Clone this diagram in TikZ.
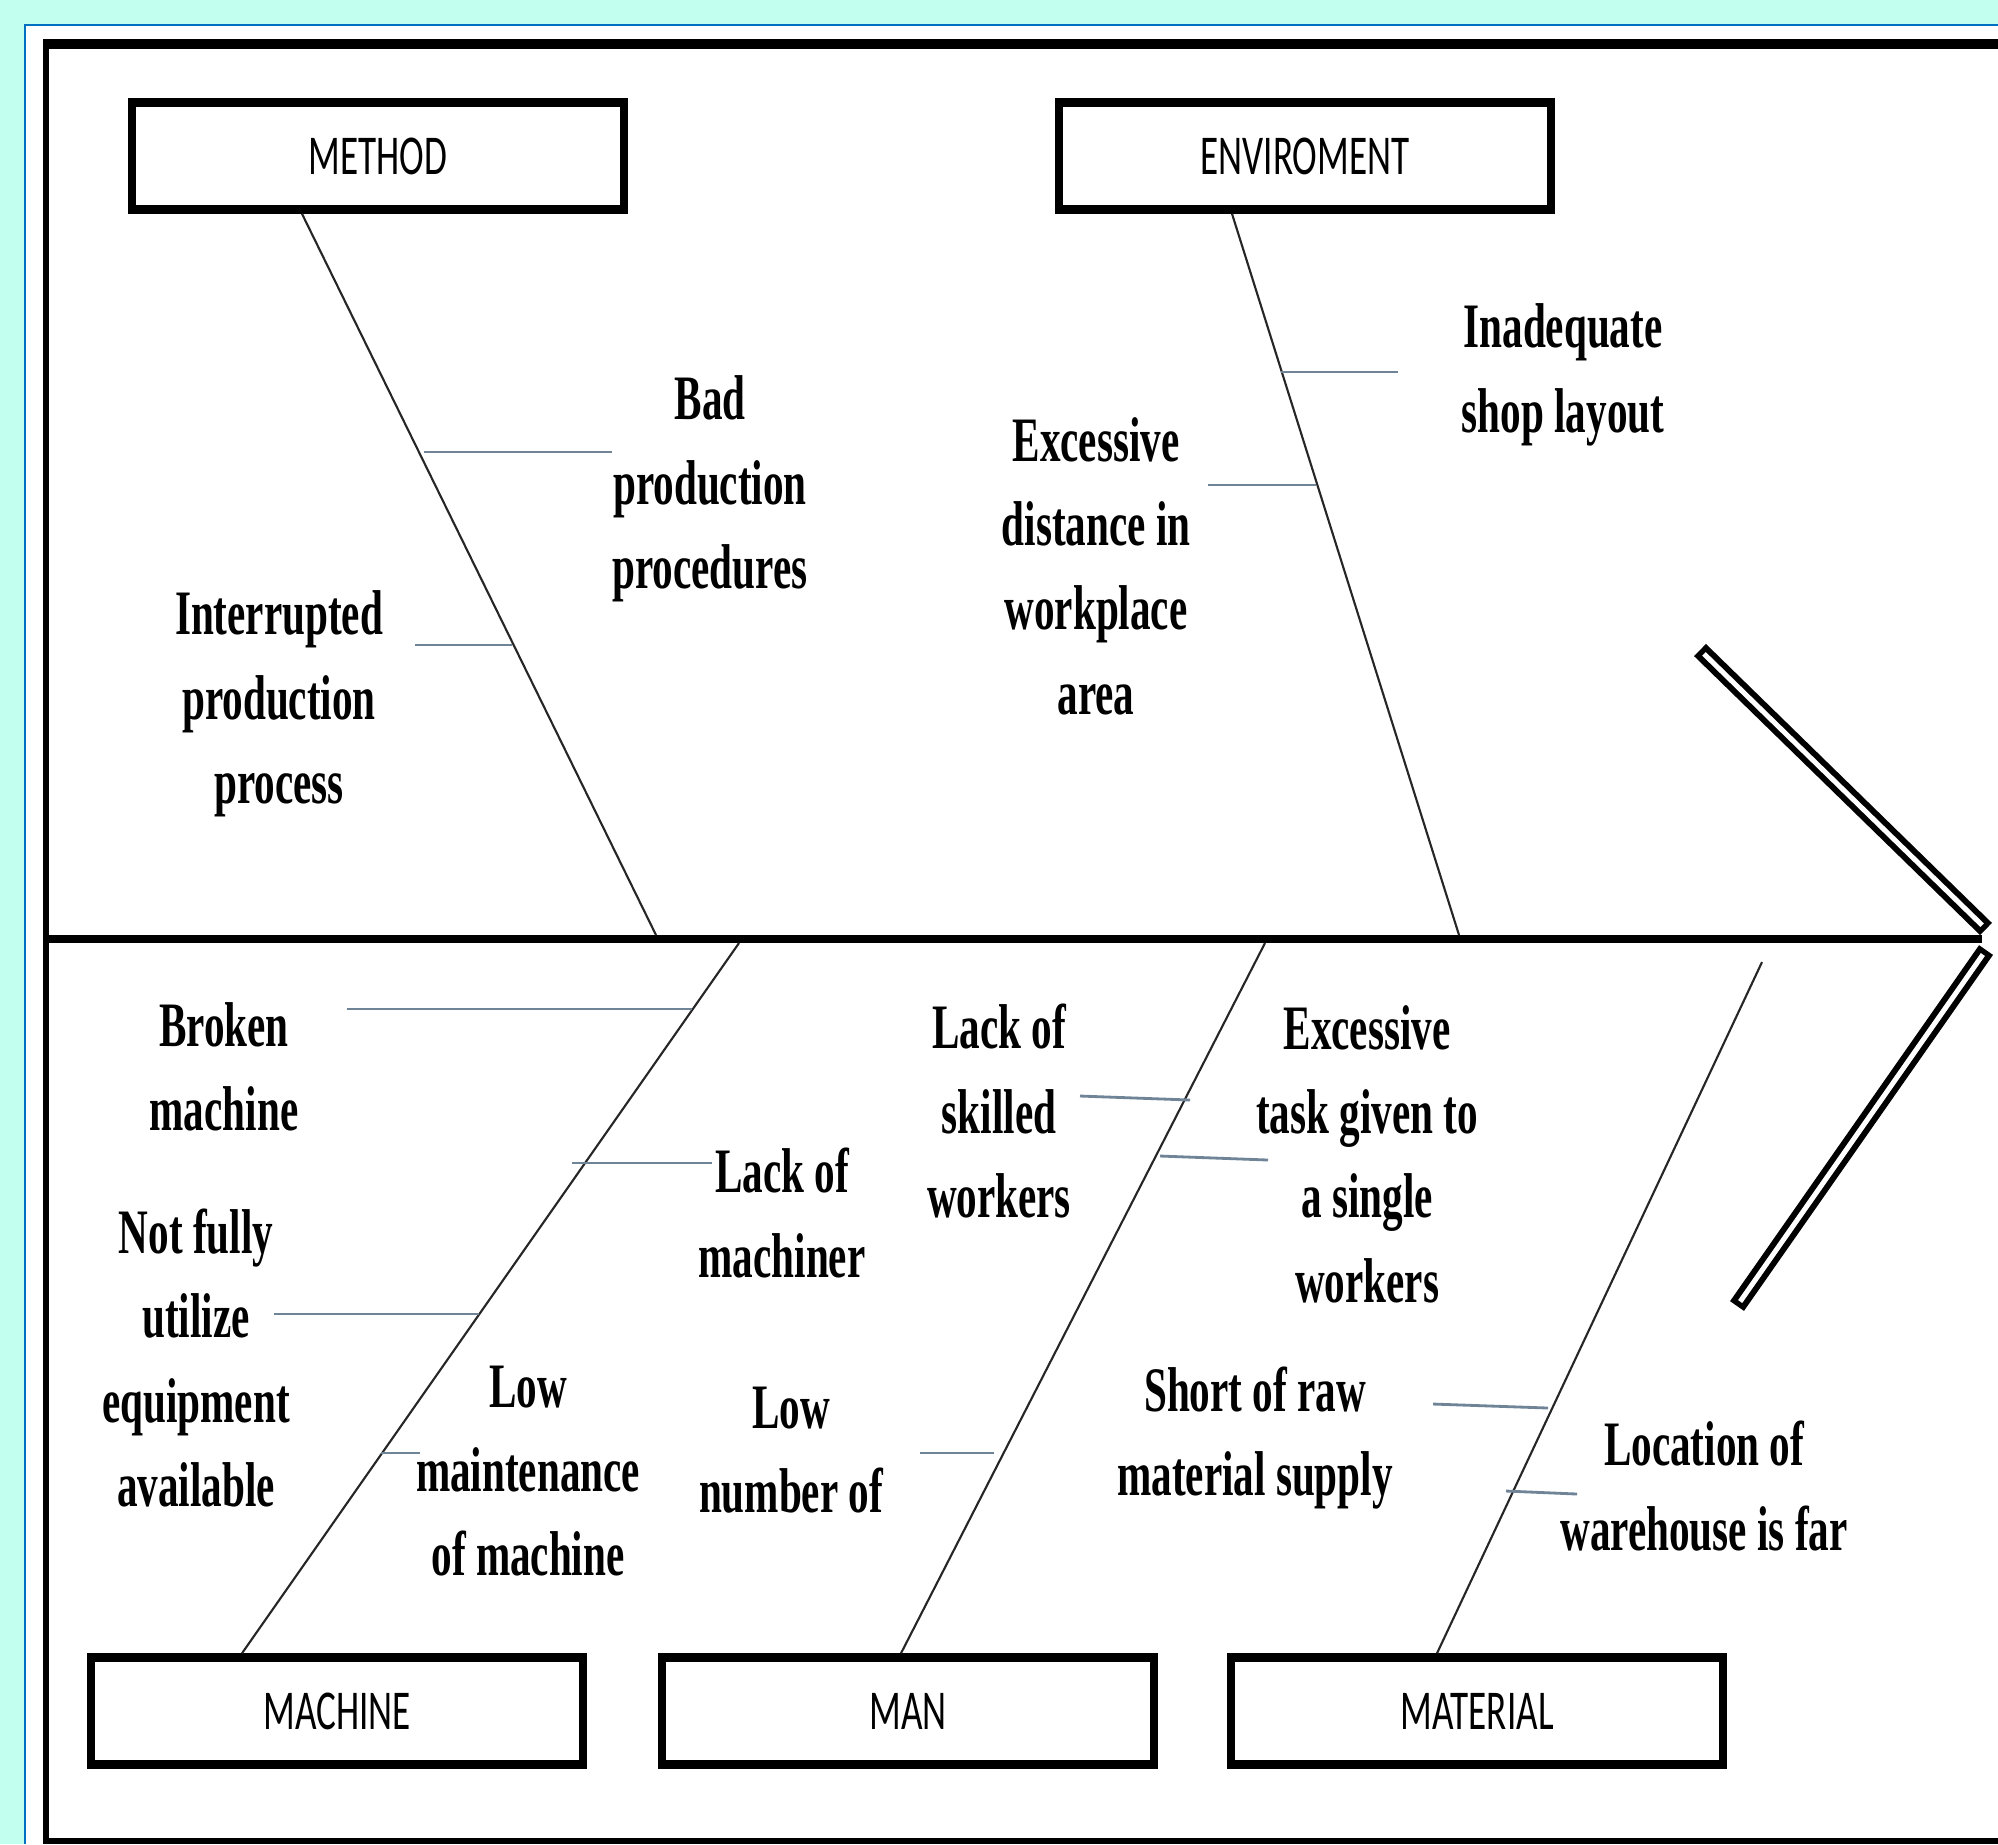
\documentclass[tikz,border=0pt]{standalone}
\usepackage{fontspec}
\newfontfamily\causefont[FakeStretch=0.65]{Liberation Serif}
\newfontfamily\catfont[FakeStretch=0.66]{Carlito}
\usetikzlibrary{calc}
\definecolor{bgcyan}{RGB}{194,255,238}
\definecolor{frameblue}{RGB}{0,112,192}
\definecolor{ribcol}{RGB}{111,132,151}
\begin{document}
\begin{tikzpicture}[x=0.01cm,y=-0.01cm,
  catbox/.style={draw=black, line width=0.085cm, minimum width=4.92cm, minimum height=1.07cm, inner sep=0pt, fill=white, font=\catfont\fontsize{16}{19}\selectfont},
  cause/.style={align=center, inner sep=0pt, font=\causefont\bfseries\fontsize{18}{24}\selectfont},
  bone/.style={line width=0.6pt, black!85},
  rib/.style={line width=0.8pt, ribcol},
  armout/.style={line width=0.17cm, black},
  armin/.style={line width=0.05cm, white, shorten <=0.055cm, shorten >=0.055cm}
]
\useasboundingbox (0,0) rectangle (1998,1844);
\fill[bgcyan] (0,0) rectangle (1998,1844);
\fill[white] (25,25) rectangle (1998,1844);
\draw[frameblue, line width=0.025cm] (1998,25) -- (25,25) -- (25,1844);
\draw[line width=0.1cm] (43,44) -- (1998,44);
\draw[line width=0.06cm] (46,40) -- (46,1844);
\draw[line width=0.06cm] (43,1841) -- (1998,1841);

% category boxes
\node[catbox] (method) at (378,156) {METHOD};
\node[catbox] (env) at (1305,156) {ENVIROMENT};
\node[catbox] (machine) at (337,1711) {MACHINE};
\node[catbox] (man) at (908,1711) {MAN};
\node[catbox] (material) at (1477,1711) {MATERIAL};

% spine and head
\coordinate (spL) at (46,939);
\coordinate (tip) at (1982,939);
\draw[line width=0.08cm] (spL) -- (tip);
\coordinate (upA) at (1700,650);
\coordinate (upB) at (1986,929);
\coordinate (loA) at (1986,950);
\coordinate (loB) at (1737,1306);
\draw[armout] (upA) -- (upB);
\draw[armin] (upA) -- (upB);
\draw[armout] (loA) -- (loB);
\draw[armin] (loA) -- (loB);

% main bones
\coordinate (mEnd) at (656,935);
\coordinate (eEnd) at (1459,935);
\coordinate (maEnd) at (739,943);
\coordinate (mnEnd) at (1265,943);
\coordinate (mtEnd) at (1762,962);
\draw[bone] ($(method.south)+(-76,0)$) -- (mEnd);
\draw[bone] ($(env.south)+(-73,0)$) -- (eEnd);
\draw[bone] ($(machine.north)+(-95,0)$) -- (maEnd);
\draw[bone] ($(man.north)+(-7,0)$) -- (mnEnd);
\draw[bone] ($(material.north)+(-40,0)$) -- (mtEnd);

% causes
\node[cause] (bad) at (710,489) {Bad\\production\\procedures};
\node[cause] (intr) at (279,704) {Interrupted\\production\\process};
\node[cause] (inad) at (1563,375) {Inadequate\\shop layout};
\node[cause] (dist) at (1096,566) {Excessive\\distance in\\workplace\\area};
\node[cause] (broken) at (224,1067) {Broken\\machine};
\node[cause] (lackm) at (782,1213) {Lack of\\machiner};
\node[cause] (notfull) at (196,1358) {Not fully\\utilize\\equipment\\available};
\node[cause] (lowm) at (528,1471) {Low\\maintenance\\of machine};
\node[cause] (lacks) at (999,1111) {Lack of\\skilled\\workers};
\node[cause] (task) at (1367,1154) {Excessive\\task given to\\a single\\workers};
\node[cause] (lown) at (791,1450) {Low\\number of};
\node[cause] (short) at (1255,1438) {Short of raw\\material supply};
\node[cause] (loc) at (1704,1486) {Location of\\warehouse is far};

% ribs
\coordinate (r1a) at (424,452);  \coordinate (r1b) at (612,452);
\coordinate (r2a) at (415,645);  \coordinate (r2b) at (512,645);
\coordinate (r3a) at (1281,372); \coordinate (r3b) at (1398,372);
\coordinate (r4a) at (1208,485); \coordinate (r4b) at (1316,485);
\coordinate (r5a) at (347,1009); \coordinate (r5b) at (692,1009);
\coordinate (r6a) at (572,1163); \coordinate (r6b) at (712,1163);
\coordinate (r7a) at (274,1314); \coordinate (r7b) at (479,1314);
\coordinate (r8a) at (381,1453); \coordinate (r8b) at (420,1453);
\coordinate (r9a) at (1080,1096); \coordinate (r9b) at (1190,1100);
\coordinate (r10a) at (1160,1156); \coordinate (r10b) at (1268,1160);
\coordinate (r11a) at (920,1453); \coordinate (r11b) at (994,1453);
\coordinate (r12a) at (1433,1404); \coordinate (r12b) at (1548,1408);
\coordinate (r13a) at (1506,1491); \coordinate (r13b) at (1577,1494);
\foreach \r in {1,...,13} {\draw[rib] (r\r a) -- (r\r b);}
\end{tikzpicture}
\end{document}
